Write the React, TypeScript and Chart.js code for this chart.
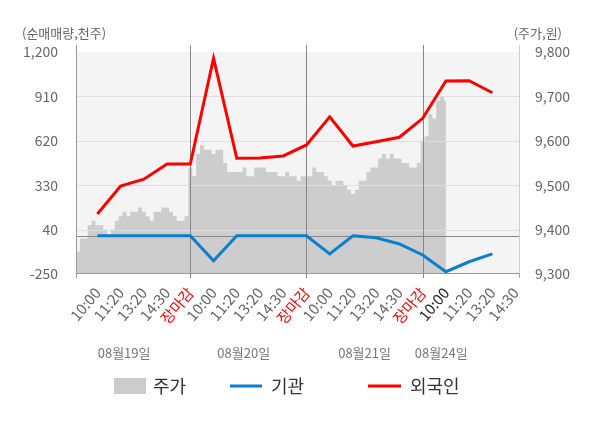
import { useEffect, useRef } from "react"
import { Chart, registerables, type Plugin } from "chart.js"

Chart.register(...registerables)

const FONT = "'Noto Sans CJK KR', 'Noto Sans', sans-serif"

// x-axis tick labels (slots 1..19)
const timeLabels = [
  "10:00", "11:20", "13:20", "14:30", "장마감",
  "10:00", "11:20", "13:20", "14:30", "장마감",
  "10:00", "11:20", "13:20", "14:30", "장마감",
  "10:00", "11:20", "13:20", "14:30",
]
const dayLabels = ["08월19일", "08월20일", "08월21일", "08월24일"]
const dayLabelSlots = [2.15, 7.3, 12.5, 15.8]
const dayBreaks = [5, 10, 15]

const leftTicks = [-250, 40, 330, 620, 910, 1200]
const rightTicks = [9300, 9400, 9500, 9600, 9700, 9800]

// net buying (천주) at slots 1..18
const foreignNet = [142, 325, 369, 468, 468, 1159, 506, 508, 521, 593, 777, 586, 614, 643, 767, 1011, 1012, 934]
const instNet = [0, 0, 0, 0, 0, -163, 0, 0, 0, 0, -119, 0, -13, -54, -126, -235, -170, -119]

// price (원), 6 readings per slot
const priceDay1 = [9360, 9350, 9380, 9380, 9410, 9420, 9410, 9410, 9400, 9390, 9400, 9420, 9430, 9440, 9430, 9440, 9440, 9450, 9440, 9430, 9420, 9440, 9440, 9450, 9450, 9440, 9430, 9420, 9420, 9430]
const priceDay2 = [9540, 9520, 9570, 9590, 9580, 9580, 9570, 9580, 9580, 9550, 9530, 9530, 9530, 9530, 9540, 9520, 9520, 9540, 9540, 9540, 9530, 9530, 9530, 9520, 9520, 9530, 9520, 9520, 9510, 9520]
const priceDay3 = [9520, 9520, 9540, 9530, 9530, 9520, 9510, 9500, 9510, 9510, 9500, 9490, 9480, 9490, 9510, 9510, 9530, 9540, 9540, 9560, 9570, 9560, 9570, 9560, 9560, 9550, 9550, 9540, 9540, 9550]
const priceDay4 = [9600, 9610, 9660, 9650, 9690, 9700, 9690]

const priceDays = [priceDay1, priceDay2, priceDay3, priceDay4]
const pricePoints = priceDays.flatMap((day, d) => day.map((p, i) => ({ x: d * 5 + i / 6, y: p })))

const framePlugin: Plugin = {
  id: "frame",
  beforeDatasetsDraw(chart) {
    const { ctx, chartArea: a } = chart
    ctx.save()
    ctx.fillStyle = "#f4f4f4"
    ctx.fillRect(a.left, a.top, a.right - a.left, a.bottom - a.top)
    ctx.restore()
  },
  afterDatasetDraw(chart, args) {
    if (args.index !== 0) return
    const { ctx, chartArea: a, scales } = chart
    const x = scales.x
    const y = scales.y
    ctx.save()
    ctx.lineWidth = 1
    // horizontal grid
    ctx.strokeStyle = "#dedede"
    leftTicks.slice(1, -1).forEach((v) => {
      const py = Math.round(y.getPixelForValue(v)) + 0.5
      ctx.beginPath()
      ctx.moveTo(a.left, py)
      ctx.lineTo(a.right, py)
      ctx.stroke()
    })
    // zero line
    ctx.strokeStyle = "#888888"
    const zy = Math.round(y.getPixelForValue(0)) + 0.5
    ctx.beginPath()
    ctx.moveTo(a.left, zy)
    ctx.lineTo(a.right, zy)
    ctx.stroke()
    // day separators
    dayBreaks.forEach((v) => {
      const px = Math.round(x.getPixelForValue(v)) + 0.5
      ctx.beginPath()
      ctx.moveTo(px, a.top - 7)
      ctx.lineTo(px, a.bottom + 4)
      ctx.stroke()
    })
    // axes
    ctx.strokeStyle = "#999999"
    const lx = Math.round(a.left) + 0.5
    ctx.beginPath()
    ctx.moveTo(lx, a.top - 7)
    ctx.lineTo(lx, a.bottom + 4)
    ctx.stroke()
    const by = Math.round(a.bottom) - 0.5
    ctx.beginPath()
    ctx.moveTo(a.left, by)
    ctx.lineTo(a.right, by)
    ctx.stroke()
    const rx = Math.round(a.right) - 0.5
    ctx.beginPath()
    ctx.moveTo(rx, by)
    ctx.lineTo(rx, by + 4)
    ctx.stroke()
    ctx.strokeStyle = "#cfcfcf"
    ctx.beginPath()
    ctx.moveTo(rx, a.top - 7)
    ctx.lineTo(rx, by)
    ctx.stroke()
    ctx.restore()
  },
  afterDraw(chart) {
    const { ctx, scales } = chart
    ctx.save()
    ctx.fillStyle = "#666666"
    ctx.font = `13px ${FONT}`
    ctx.textBaseline = "middle"
    ctx.textAlign = "left"
    ctx.fillText("(순매매량,천주)", 22, 33)
    ctx.textAlign = "right"
    ctx.fillText("(주가,원)", 562, 33)
    ctx.fillStyle = "#777777"
    ctx.textAlign = "center"
    dayLabels.forEach((t, i) => {
      ctx.fillText(t, scales.x.getPixelForValue(dayLabelSlots[i]), 353)
    })
    // legend
    const ly = 386
    ctx.font = `18px ${FONT}`
    ctx.textAlign = "left"
    ctx.fillStyle = "#cccccc"
    ctx.fillRect(114, ly - 8, 32, 16)
    ctx.fillStyle = "#333333"
    ctx.fillText("주가", 153, ly)
    ctx.lineWidth = 3
    ctx.strokeStyle = "#0a7fcc"
    ctx.beginPath()
    ctx.moveTo(230, ly)
    ctx.lineTo(262, ly)
    ctx.stroke()
    ctx.fillText("기관", 271, ly)
    ctx.strokeStyle = "#ff0000"
    ctx.beginPath()
    ctx.moveTo(368, ly)
    ctx.lineTo(401, ly)
    ctx.stroke()
    ctx.fillText("외국인", 410, ly)
    ctx.restore()
  },
}

export default function App() {
  const canvasRef = useRef<HTMLCanvasElement>(null)
  const chartRef = useRef<Chart | null>(null)

  useEffect(() => {
    document.body.style.margin = "0"
    if (!canvasRef.current) return
    if (chartRef.current) chartRef.current.destroy()

    const slots = foreignNet.map((_, i) => i + 1)

    chartRef.current = new Chart(canvasRef.current, {
      type: "line",
      data: {
        datasets: [
          {
            label: "주가",
            data: pricePoints,
            yAxisID: "y1",
            backgroundColor: "#cdcdcd",
            borderWidth: 0,
            pointRadius: 0,
            fill: "start",
            stepped: "middle",
            order: 10,
          },
          {
            label: "기관",
            data: slots.map((s, i) => ({ x: s, y: instNet[i] })),
            yAxisID: "y",
            borderColor: "#0a7fcc",
            borderWidth: 3,
            pointRadius: 0,
            fill: false,
            order: 2,
          },
          {
            label: "외국인",
            data: slots.map((s, i) => ({ x: s, y: foreignNet[i] })),
            yAxisID: "y",
            borderColor: "#ff0000",
            borderWidth: 3,
            pointRadius: 0,
            fill: false,
            order: 1,
          },
        ],
      },
      options: {
        animation: false,
        responsive: false,
        layout: { padding: { top: 52, left: 0, right: 0, bottom: 0 } },
        plugins: { legend: { display: false }, tooltip: { enabled: false } },
        scales: {
          x: {
            type: "linear",
            min: 0.08,
            max: 19.19,
            afterBuildTicks: (s) => {
              s.ticks = timeLabels.map((_, i) => ({ value: i + 1 }))
            },
            afterFit: (s) => {
              s.height = 154
            },
            grid: { display: false },
            border: { display: false },
            ticks: {
              autoSkip: false,
              minRotation: 50,
              maxRotation: 50,
              padding: 2,
              font: { size: 15, family: FONT },
              color: (c) => (timeLabels[c.index] === "장마감" ? "#ff0000" : c.index === 15 ? "#222222" : "#666666"),
              callback: (_v, i) => timeLabels[i],
            },
          },
          y: {
            position: "left",
            min: -250,
            max: 1200,
            afterBuildTicks: (s) => {
              s.ticks = leftTicks.map((v) => ({ value: v }))
            },
            afterFit: (s) => {
              s.width = 76
            },
            grid: { display: false },
            border: { display: false },
            ticks: {
              padding: 10,
              font: { size: 14, family: FONT },
              color: "#666666",
              callback: (v) => Number(v).toLocaleString("en-US"),
            },
          },
          y1: {
            position: "right",
            min: 9300,
            max: 9800,
            afterBuildTicks: (s) => {
              s.ticks = rightTicks.map((v) => ({ value: v }))
            },
            afterFit: (s) => {
              s.width = 80
            },
            grid: { display: false },
            border: { display: false },
            ticks: {
              padding: 7,
              font: { size: 14, family: FONT },
              color: "#666666",
              callback: (v) => Number(v).toLocaleString("en-US"),
            },
          },
        },
      },
      plugins: [framePlugin],
    })

    return () => {
      chartRef.current?.destroy()
      chartRef.current = null
    }
  }, [])

  return (
    <div style={{ width: 600, height: 428, background: "#ffffff" }}>
      <canvas ref={canvasRef} width={600} height={428} style={{ display: "block" }}></canvas>
    </div>
  )
}
